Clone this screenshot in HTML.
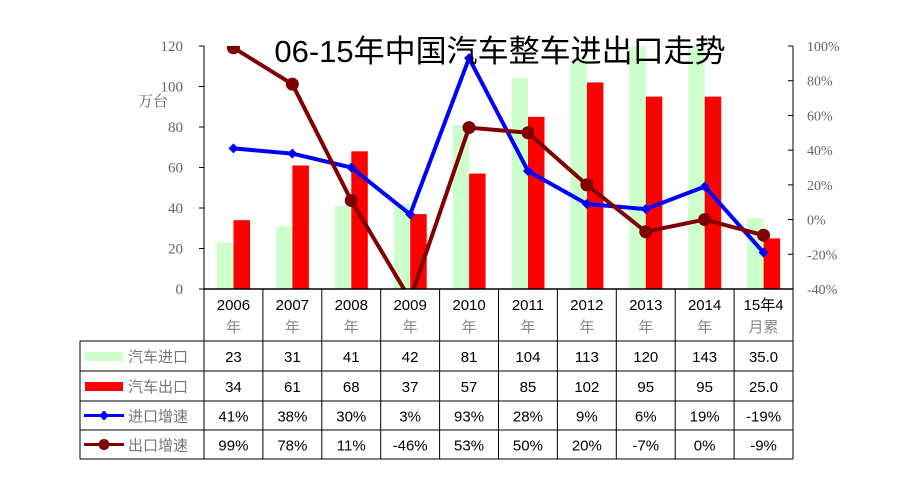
<!DOCTYPE html>
<html><head><meta charset="utf-8"><style>
body{margin:0;background:#fff;width:900px;height:500px;overflow:hidden}
svg{display:block}
</style></head><body>
<svg id="chart" width="900" height="500" xmlns="http://www.w3.org/2000/svg">
<defs><clipPath id="plotClip"><rect x="204" y="46" width="589" height="243"/></clipPath></defs>
<g id="bars" clip-path="url(#plotClip)"></g>
<g id="lines" clip-path="url(#plotClip)"></g>
<g id="axes"></g>
<g id="table"></g>
<text x="500" y="62" text-anchor="middle" font-family="'Liberation Sans','Noto Sans CJK SC',sans-serif" font-size="31" fill="#000">06-15年中国汽车整车进出口走势</text>
<text x="138" y="106" font-family="'Liberation Serif','Noto Serif CJK SC',serif" font-size="15" fill="#666">万台</text>
</svg>
<script>
const categories=["2006","2007","2008","2009","2010","2011","2012","2013","2014","15年4"];
const catSub=["年","年","年","年","年","年","年","年","年","月累"];
const importVol=[23,31,41,42,81,104,113,120,143,35.0];
const exportVol=[34,61,68,37,57,85,102,95,95,25.0];
const importGrowth=[41,38,30,3,93,28,9,6,19,-19];
const exportGrowth=[99,78,11,-46,53,50,20,-7,0,-9];
const importLabels=["23","31","41","42","81","104","113","120","143","35.0"];
const exportLabels=["34","61","68","37","57","85","102","95","95","25.0"];
const leftTicks=[0,20,40,60,80,100,120];
const rightTicks=[-40,-20,0,20,40,60,80,100];

const NS="http://www.w3.org/2000/svg";
const X0=204,X1=793,Y0=289,Y1=46;
const cw=(X1-X0)/categories.length;
const yL=v=>Y0-(v/120)*(Y0-Y1);
const yR=v=>Y0-((v+40)/140)*(Y0-Y1);
const xc=i=>X0+cw*i+cw/2;
function mk(tag,attrs,parent,txt){const e=document.createElementNS(NS,tag);for(const k in attrs)e.setAttribute(k,attrs[k]);if(txt!==undefined)e.textContent=txt;parent.appendChild(e);return e;}
const bars=document.getElementById('bars'),lines=document.getElementById('lines'),axes=document.getElementById('axes'),table=document.getElementById('table');

categories.forEach((c,i)=>{
  const b1=mk('rect',{x:X0+cw*i+13,y:yL(importVol[i]),width:16.5,height:Y0-yL(importVol[i]),fill:'#ccffcc'},bars);
  
  
  const b2=mk('rect',{x:X0+cw*i+29.5,y:yL(exportVol[i]),width:16.5,height:Y0-yL(exportVol[i]),fill:'#ff0000'},bars);
  
  
});
function series(vals,color,name,marker){
  const pts=vals.map((v,i)=>xc(i)+','+yR(v)).join(' ');
  const pl=mk('polyline',{points:pts,fill:'none',stroke:color,'stroke-width':4,'stroke-linejoin':'round'},lines);
  
  
  vals.forEach((v,i)=>{
    let m;
    if(marker==='circle') m=mk('circle',{cx:xc(i),cy:yR(v),r:6.5,fill:color},lines);
    else {const x=xc(i),y=yR(v);m=mk('polygon',{points:`${x},${y-5} ${x+5},${y} ${x},${y+5} ${x-5},${y}`,fill:color},lines);}
    
    
  });
}
series(importGrowth,'#0000ff','import-growth','diamond');
series(exportGrowth,'#7f0000','export-growth','circle');

mk('line',{x1:X0,y1:Y1,x2:X0,y2:Y0,stroke:'#000','stroke-width':1},axes);
mk('line',{x1:X1,y1:Y1,x2:X1,y2:Y0,stroke:'#000','stroke-width':1},axes);
leftTicks.forEach(v=>{
  mk('line',{x1:X0-5,y1:yL(v),x2:X0,y2:yL(v),stroke:'#000'},axes);
  const t=mk('text',{x:X0-21,y:yL(v)+5,'text-anchor':'end','font-family':"'Liberation Serif',serif",'font-size':15,fill:'#666'},axes,String(v));
  
  
});
rightTicks.forEach(v=>{
  mk('line',{x1:X1-5,y1:yR(v),x2:X1,y2:yR(v),stroke:'#000'},axes);
  const t=mk('text',{x:X1+14,y:yR(v)+5,'font-family':"'Liberation Serif',serif",'font-size':14,fill:'#666'},axes,v+'%');
  
  
});

// table
const rowsY=[289,341,371,401,430,459];
const TL=80;
rowsY.forEach((y,k)=>{mk('line',{x1:k===0?X0:TL,y1:y,x2:X1,y2:y,stroke:'#000','stroke-width':k===0?1.5:1},table);});
mk('line',{x1:TL,y1:341,x2:TL,y2:459,stroke:'#000'},table);
for(let i=0;i<=categories.length;i++){mk('line',{x1:X0+cw*i,y1:289,x2:X0+cw*i,y2:459,stroke:'#000'},table);}
const sans="'Liberation Sans','Noto Sans CJK SC',sans-serif";
categories.forEach((c,i)=>{
  const t=mk('text',{x:xc(i),y:310,'text-anchor':'middle','font-family':sans,'font-size':15,fill:'#000'},table,c);
  
  
  const s=mk('text',{x:xc(i),y:332,'text-anchor':'middle','font-family':sans,'font-size':15,fill:'#888'},table,catSub[i]);
  
  
  const rows=[importLabels[i],exportLabels[i],importGrowth[i]+'%',exportGrowth[i]+'%'];
  rows.forEach((r,k)=>{
    const cell=mk('text',{x:xc(i),y:(rowsY[k+1]+rowsY[k+2])/2+6,'text-anchor':'middle','font-family':sans,'font-size':15,fill:'#000'},table,r);
    
    
  });
});
const legNames=['汽车进口','汽车出口','进口增速','出口增速'];
legNames.forEach((n,k)=>{
  const cy=(rowsY[k+1]+rowsY[k+2])/2;
  let sw;
  if(k===0) sw=mk('rect',{x:85,y:cy-4,width:38,height:9,fill:'#ccffcc'},table);
  else if(k===1) sw=mk('rect',{x:85,y:cy-4,width:38,height:9,fill:'#ff0000'},table);
  else {
    const col=k===2?'#0000ff':'#7f0000';
    sw=mk('line',{x1:84,y1:cy,x2:124,y2:cy,stroke:col,'stroke-width':3},table);
    if(k===2) mk('polygon',{points:`104,${cy-5} 109,${cy} 104,${cy+5} 99,${cy}`,fill:col},table);
    else mk('circle',{cx:104,cy:cy,r:5.5,fill:col},table);
  }
  
  
  const t=mk('text',{x:128,y:cy+6,'font-family':sans,'font-size':15,fill:'#777'},table,n);
  
  
});
</script>
</body></html>
